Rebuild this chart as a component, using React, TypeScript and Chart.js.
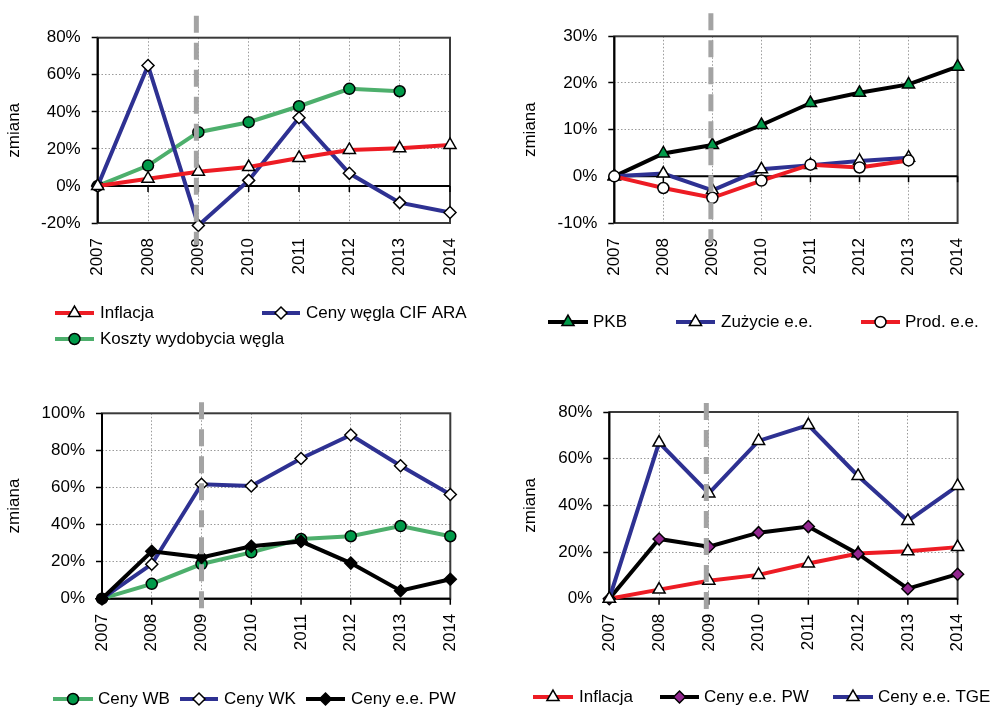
import React, { useEffect, useRef } from 'react';
import { Chart, registerables } from 'chart.js';

Chart.register(...registerables);

const FONT_FAMILY = '"Liberation Sans", Arial, Helvetica, sans-serif';
const FONT_SIZE = 17;

// ---------------- data ----------------
const years = ['2007', '2008', '2009', '2010', '2011', '2012', '2013', '2014'];

const inflacja = [0, 3.9, 7.7, 10.2, 15.1, 19.4, 20.3, 22.1];
const cenyWeglaCifAra = [0, 65, -21.3, 3, 36.8, 6.8, -9, -14.3];
const kosztyWydobyciaWegla = [0, 11, 29, 34.4, 43, 52.4, 51.1, null];

const pkb = [0, 4.9, 6.7, 11, 15.7, 17.9, 19.7, 23.5];
const zuzycieEE = [0, 0.6, -3, 1.5, 2.4, 3.3, 4, null];
const prodEE = [0, -2.5, -4.6, -0.9, 2.5, 1.9, 3.4, null];

const cenyWB = [0, 8, 18.7, 25, 32.2, 33.7, 39.2, 33.7];
const cenyWK = [0, 18.6, 61.7, 60.8, 75.6, 88.3, 71.7, 56.2];
const cenyEePW = [0, 25.6, 22.3, 28.3, 30.9, 19.2, 4.3, 10.5];
const cenyEeTGE = [0, 66.9, 45.1, 67.6, 74.4, 52.6, 33.3, 48.3];

// y-axis ranges [min, max, step]
const axisP1 = [-20, 80, 20];
const axisP2 = [-10, 30, 10];
const axisP3 = [0, 100, 20];
const axisP4 = [0, 80, 20];

const crisisYear = '2009';
const axisTitle = 'zmiana';

// ---------------- styles ----------------
const RED = '#ed1c24';
const BLUE = '#2e3192';
const GREEN_LINE = '#4daf6c';
const GREEN_MARK = '#009a49';
const PURPLE = '#92278f';
const BLACK = '#000000';
const WHITE = '#ffffff';

type Mark = 'triangle' | 'circle' | 'rectRot';

type Series = {
  label: string;
  data: (number | null)[];
  color: string;
  mark: Mark;
  fill: string;
  radius: number;
  order: number;
};

type LegendPos = { x1: number; x2: number; tx: number; y: number };

type Panel = {
  box: { x: number; y: number; w: number; h: number };
  area: { l: number; t: number; r: number; b: number };
  padLeft: number;
  axis: number[];
  series: Series[];
  legend: LegendPos[];
  dash: { above: number; below: number; dx: number };
};

const panels: Panel[] = [
  {
    box: { x: 0, y: 0, w: 496, h: 360 },
    area: { l: 97.7, t: 37.7, r: 450, b: 223 },
    padLeft: 0,
    axis: axisP1,
    series: [
      { label: 'Inflacja', data: inflacja, color: RED, mark: 'triangle', fill: WHITE, radius: 7, order: 0 },
      { label: 'Ceny węgla CIF ARA', data: cenyWeglaCifAra, color: BLUE, mark: 'rectRot', fill: WHITE, radius: 6, order: 1 },
      { label: 'Koszty wydobycia węgla', data: kosztyWydobyciaWegla, color: GREEN_LINE, mark: 'circle', fill: GREEN_MARK, radius: 5.5, order: 2 },
    ],
    legend: [
      { x1: 55, x2: 94, tx: 100, y: 313 },
      { x1: 262, x2: 300, tx: 306, y: 313 },
      { x1: 55, x2: 94, tx: 100, y: 339 },
    ],
    dash: { above: 22, below: 22, dx: -2 },
  },
  {
    box: { x: 496, y: 0, w: 497, h: 360 },
    area: { l: 614.3, t: 36.3, r: 969, b: 223 },
    padLeft: 20.3,
    axis: axisP2,
    series: [
      { label: 'PKB', data: pkb, color: BLACK, mark: 'triangle', fill: GREEN_MARK, radius: 7, order: 2 },
      { label: 'Zużycie e.e.', data: zuzycieEE, color: BLUE, mark: 'triangle', fill: WHITE, radius: 7, order: 1 },
      { label: 'Prod. e.e.', data: prodEE, color: RED, mark: 'circle', fill: WHITE, radius: 5.5, order: 0 },
    ],
    legend: [
      { x1: 548, x2: 588, tx: 593, y: 322 },
      { x1: 676, x2: 715, tx: 721, y: 322 },
      { x1: 861, x2: 900, tx: 905, y: 322 },
    ],
    dash: { above: 23, below: 20, dx: -1.5 },
  },
  {
    box: { x: 0, y: 360, w: 496, h: 349 },
    area: { l: 102, t: 413.3, r: 450.3, b: 598.7 },
    padLeft: 0,
    axis: axisP3,
    series: [
      { label: 'Ceny WB', data: cenyWB, color: GREEN_LINE, mark: 'circle', fill: GREEN_MARK, radius: 5.5, order: 2 },
      { label: 'Ceny WK', data: cenyWK, color: BLUE, mark: 'rectRot', fill: WHITE, radius: 6, order: 1 },
      { label: 'Ceny e.e. PW', data: cenyEePW, color: BLACK, mark: 'rectRot', fill: BLACK, radius: 6, order: 0 },
    ],
    legend: [
      { x1: 53, x2: 93, tx: 98, y: 699 },
      { x1: 180, x2: 218, tx: 224, y: 699 },
      { x1: 306, x2: 345, tx: 351, y: 699 },
    ],
    dash: { above: 11, below: 11, dx: 0 },
  },
  {
    box: { x: 496, y: 360, w: 497, h: 349 },
    area: { l: 609.3, t: 412, r: 969, b: 598.7 },
    padLeft: 20.3,
    axis: axisP4,
    series: [
      { label: 'Inflacja', data: inflacja, color: RED, mark: 'triangle', fill: WHITE, radius: 7, order: 2 },
      { label: 'Ceny e.e. PW', data: cenyEePW, color: BLACK, mark: 'rectRot', fill: PURPLE, radius: 6, order: 1 },
      { label: 'Ceny e.e. TGE', data: cenyEeTGE, color: BLUE, mark: 'triangle', fill: WHITE, radius: 7, order: 0 },
    ],
    legend: [
      { x1: 533, x2: 573, tx: 579, y: 697 },
      { x1: 660, x2: 699, tx: 704, y: 697 },
      { x1: 833, x2: 873, tx: 878, y: 697 },
    ],
    dash: { above: 9, below: 11, dx: -2.5 },
  },
];

function drawMarker(ctx: CanvasRenderingContext2D, mark: Mark, x: number, y: number, r: number, fill: string) {
  ctx.beginPath();
  if (mark === 'circle') {
    ctx.arc(x, y, r, 0, Math.PI * 2);
  } else if (mark === 'triangle') {
    ctx.moveTo(x, y - r);
    ctx.lineTo(x + r * Math.sin((2 * Math.PI) / 3), y + r * 0.5);
    ctx.lineTo(x - r * Math.sin((2 * Math.PI) / 3), y + r * 0.5);
    ctx.closePath();
  } else {
    ctx.moveTo(x, y - r);
    ctx.lineTo(x + r, y);
    ctx.lineTo(x, y + r);
    ctx.lineTo(x - r, y);
    ctx.closePath();
  }
  ctx.fillStyle = fill;
  ctx.fill();
  ctx.lineWidth = 1.5;
  ctx.strokeStyle = '#000';
  ctx.stroke();
}

function ChartPanel({ p }: { p: Panel }) {
  const ref = useRef<HTMLCanvasElement>(null);

  useEffect(() => {
    const canvas = ref.current;
    if (!canvas) return;
    const pl = p.padLeft;
    const yW = p.area.l - p.box.x - pl;
    const pt = p.area.t - p.box.y;
    const pr = p.box.x + p.box.w - p.area.r;
    const xH = p.box.y + p.box.h - p.area.b;
    const [yMin, yMax, yStep] = p.axis;
    const font = { family: FONT_FAMILY, size: FONT_SIZE };

    const framePlugin = {
      id: 'frame',
      beforeDatasetsDraw(chart: any) {
        const { ctx, chartArea: a, scales } = chart;
        const xs = scales.x;
        const ys = scales.y;
        ctx.save();
        ctx.setLineDash([]);
        ctx.strokeStyle = '#3a3a3a';
        ctx.lineWidth = 2;
        ctx.strokeRect(a.left, a.top, a.right - a.left, a.bottom - a.top);
        ctx.strokeStyle = '#000';
        const y0 = ys.getPixelForValue(0);
        ctx.beginPath();
        ctx.moveTo(a.left, a.top);
        ctx.lineTo(a.left, a.bottom);
        ctx.moveTo(a.left, y0);
        ctx.lineTo(a.right, y0);
        ctx.stroke();
        ctx.lineWidth = 1.5;
        ctx.beginPath();
        years.forEach((_, i) => {
          const xp = xs.getPixelForValue(i);
          ctx.moveTo(xp, y0);
          ctx.lineTo(xp, y0 + 6);
        });
        ctx.stroke();
        ctx.restore();
      },
    };

    const dashPlugin = {
      id: 'crisis',
      afterDatasetsDraw(chart: any) {
        const { ctx, chartArea: a, scales } = chart;
        const xp = scales.x.getPixelForValue(years.indexOf(crisisYear)) + p.dash.dx;
        ctx.save();
        ctx.strokeStyle = '#a3a3a3';
        ctx.lineWidth = 5;
        ctx.lineCap = 'butt';
        ctx.setLineDash([17, 10]);
        ctx.beginPath();
        ctx.moveTo(xp, a.top - p.dash.above);
        ctx.lineTo(xp, a.bottom + p.dash.below);
        ctx.stroke();
        ctx.restore();
      },
    };

    const legendPlugin = {
      id: 'customLegend',
      afterDraw(chart: any) {
        const { ctx } = chart;
        ctx.save();
        p.series.forEach((s, i) => {
          const pos = p.legend[i];
          const x1 = pos.x1 - p.box.x;
          const x2 = pos.x2 - p.box.x;
          const y = pos.y - p.box.y;
          ctx.setLineDash([]);
          ctx.strokeStyle = s.color;
          ctx.lineWidth = 4;
          ctx.beginPath();
          ctx.moveTo(x1, y);
          ctx.lineTo(x2, y);
          ctx.stroke();
          drawMarker(ctx, s.mark, (x1 + x2) / 2, y, s.radius, s.fill);
          ctx.fillStyle = '#000';
          ctx.font = `${FONT_SIZE}px ${FONT_FAMILY}`;
          ctx.textAlign = 'left';
          ctx.textBaseline = 'middle';
          ctx.fillText(s.label, pos.tx - p.box.x, y);
        });
        ctx.restore();
      },
    };

    const chart = new Chart(canvas, {
      type: 'line',
      data: {
        labels: years,
        datasets: p.series.map((s) => ({
          label: s.label,
          data: s.data,
          borderColor: s.color,
          backgroundColor: s.color,
          borderWidth: 4,
          pointStyle: s.mark,
          pointRadius: s.radius,
          pointBackgroundColor: s.fill,
          pointBorderColor: '#000',
          pointBorderWidth: 1.5,
          tension: 0,
          fill: false,
          clip: false as any,
          order: s.order,
        })),
      },
      options: {
        responsive: false,
        animation: false,
        devicePixelRatio: 1,
        events: [],
        layout: { padding: { left: pl, top: pt, right: pr, bottom: 0 } },
        plugins: {
          legend: { display: false },
          tooltip: { enabled: false },
        },
        scales: {
          x: {
            type: 'category',
            offset: false,
            grid: { color: '#9a9a9a', lineWidth: 1, drawTicks: false },
            border: { display: false, dash: [1.5, 2] },
            ticks: {
              autoSkip: false,
              minRotation: 90,
              maxRotation: 90,
              padding: 15,
              color: '#000',
              font,
            },
            afterFit: (s: any) => {
              s.height = xH;
            },
          },
          y: {
            min: yMin,
            max: yMax,
            grid: {
              color: '#9a9a9a',
              lineWidth: 1,
              drawTicks: true,
              tickLength: 6,
              tickColor: '#000',
              tickWidth: 1.5,
            },
            border: { display: false, dash: [1.5, 2] },
            ticks: {
              stepSize: yStep,
              padding: 11,
              color: '#000',
              font,
              callback: (v: any) => `${v}%`,
            },
            title: {
              display: true,
              text: axisTitle,
              color: '#000',
              font,
              padding: { top: 4, bottom: 0 },
            },
            afterFit: (s: any) => {
              s.width = yW;
            },
          },
        },
      },
      plugins: [framePlugin, dashPlugin, legendPlugin],
    } as any);

    return () => chart.destroy();
  }, [p]);

  return (
    <canvas
      ref={ref}
      width={p.box.w}
      height={p.box.h}
      style={{ position: 'absolute', left: p.box.x, top: p.box.y, width: p.box.w, height: p.box.h }}
    />
  );
}

export default function App() {
  return (
    <div style={{ position: 'absolute', left: 0, top: 0, width: 993, height: 709, background: '#fff', overflow: 'hidden' }}>
      {panels.map((p, i) => (
        <ChartPanel key={i} p={p} />
      ))}
    </div>
  );
}
